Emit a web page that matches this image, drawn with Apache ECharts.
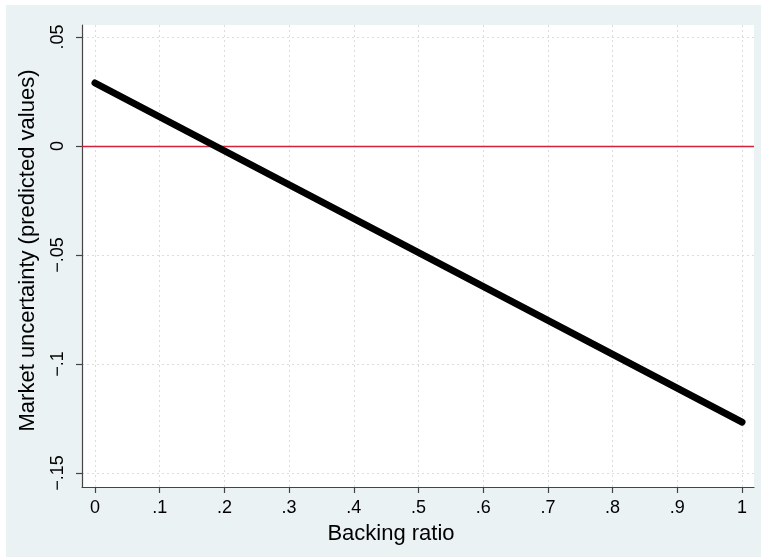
<!DOCTYPE html>
<html>
<head>
<meta charset="utf-8">
<script src="https://cdn.jsdelivr.net/npm/echarts@6/dist/echarts.min.js"></script>
<style>
html,body{margin:0;padding:0;background:#fff;}
#chart{width:761px;height:557px;}
</style>
</head>
<body>
<div id="chart"></div>
<script>
// Data
const backingRatio = [0, 1];
const predictedUncertainty = [0.0289, -0.1266];
const referenceValue = 0;
const xTickValues = [0, 0.1, 0.2, 0.3, 0.4, 0.5, 0.6, 0.7, 0.8, 0.9, 1];
const xTickLabels = ['0', '.1', '.2', '.3', '.4', '.5', '.6', '.7', '.8', '.9', '1'];
const yTickValues = [-0.15, -0.1, -0.05, 0, 0.05];
const yTickLabels = ['\u2212.15', '\u2212.1', '\u2212.05', '0', '.05'];
const xTitle = 'Backing ratio';
const yTitle = 'Market uncertainty (predicted values)';

const FONT = "'Liberation Sans', Arial, Helvetica, sans-serif";
const chart = echarts.init(document.getElementById('chart'), null, {renderer: 'canvas'});

function labelFor(values, labels) {
  return function (v) {
    for (let i = 0; i < values.length; i++) {
      if (Math.abs(values[i] - v) < 1e-9) return labels[i];
    }
    return '';
  };
}

const option = {
  backgroundColor: '#ffffff',
  animation: false,
  graphic: [{
    type: 'rect', z: -10, silent: true,
    shape: {x: 6, y: 5, width: 755, height: 552},
    style: {fill: '#eaf2f3'}
  }],
  grid: {
    left: 82, right: 7, top: 25, bottom: 70,
    containLabel: false,
    outerBoundsMode: 'none',
    show: true, backgroundColor: '#ffffff', borderWidth: 0
  },
  xAxis: {
    type: 'value',
    min: -0.0201, max: 1.0185,
    name: xTitle,
    nameLocation: 'middle',
    nameGap: 36,
    nameTextStyle: {fontFamily: FONT, fontSize: 22, color: '#000', padding: [0, 54, 0, 0]},
    axisLine: {show: true, onZero: false, lineStyle: {color: '#444', width: 1.2}},
    axisTick: {show: true, length: 6, lineStyle: {color: '#444', width: 1.2}, customValues: xTickValues},
    axisLabel: {
      fontFamily: FONT, fontSize: 18, color: '#000', margin: 12,
      customValues: xTickValues,
      formatter: labelFor(xTickValues, xTickLabels)
    },
    splitLine: {show: true, lineStyle: {color: '#dcdcdc', width: 1, type: [2, 3]}}
  },
  yAxis: {
    type: 'value',
    min: -0.1564, max: 0.0555,
    name: yTitle,
    nameLocation: 'middle',
    nameGap: 43,
    nameRotate: 90,
    nameTextStyle: {fontFamily: FONT, fontSize: 22, color: '#000', padding: [0, 0, 0, 11]},
    axisLine: {show: true, onZero: false, lineStyle: {color: '#444', width: 1.2}},
    axisTick: {show: true, length: 6, lineStyle: {color: '#444', width: 1.2}, customValues: yTickValues},
    axisLabel: {
      fontFamily: FONT, fontSize: 18, color: '#000', margin: 15, rotate: 90,
      customValues: yTickValues,
      formatter: labelFor(yTickValues, yTickLabels)
    },
    splitLine: {show: true, lineStyle: {color: '#dcdcdc', width: 1, type: [2, 3]}}
  },
  series: [{
    type: 'line',
    data: backingRatio.map((x, i) => [x, predictedUncertainty[i]]),
    symbol: 'none',
    lineStyle: {color: '#000', width: 7, cap: 'round'},
    z: 3,
    markLine: {
      silent: true,
      symbol: 'none',
      label: {show: false},
      lineStyle: {color: '#d2233c', width: 1.3, type: 'solid'},
      data: [{yAxis: referenceValue}],
      z: 2
    }
  }]
};
chart.setOption(option);
</script>
</body>
</html>
